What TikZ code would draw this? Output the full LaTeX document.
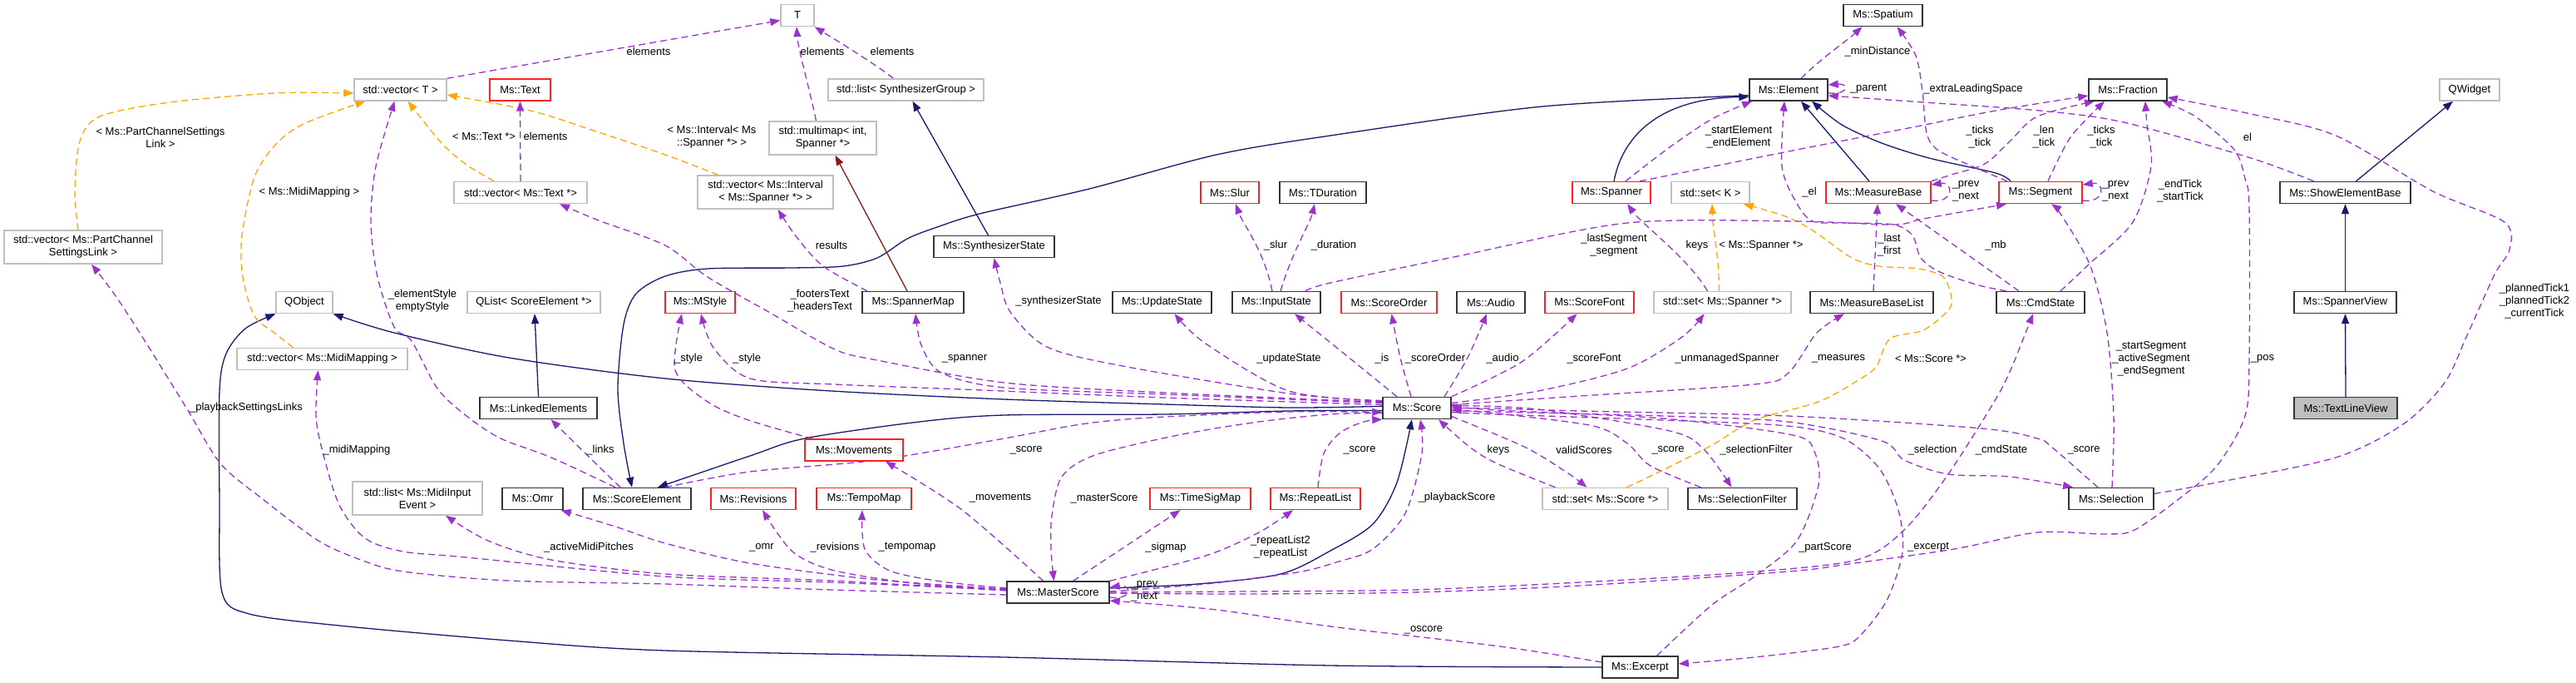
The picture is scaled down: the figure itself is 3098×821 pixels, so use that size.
\documentclass[tikz,border=0pt]{standalone}
\usepackage{fontspec}
\setmainfont{Liberation Sans}
\usetikzlibrary{arrows.meta}
\pgfdeclarelayer{bg}
\pgfsetlayers{bg,main}
\definecolor{cUse}{HTML}{9A32CD}
\definecolor{cTpl}{HTML}{FFA500}
\definecolor{cInh}{HTML}{191970}
\definecolor{cPriv}{HTML}{8B1A1A}
\definecolor{cGray}{HTML}{BFBFBF}
\definecolor{cRed}{HTML}{FF2020}
\tikzset{
 box/.style={rectangle, draw, line width=1.4pt, fill=white, inner sep=0pt, minimum height=26pt, font=\fontsize{13}{15}\selectfont, align=center},
 gbox/.style={box, draw=cGray},
 rbox/.style={box, draw=cRed},
 kbox/.style={box, draw=black!80},
 hbox/.style={box, draw=black!80, fill=cGray},
 tall/.style={minimum height=40pt},
 usage/.style={draw=cUse, line width=1.3pt, dash pattern=on 8pt off 5pt, -{Triangle[length=12pt,width=9pt]}},
 tmpl/.style={usage, draw=cTpl},
 inh/.style={draw=cInh, line width=1.3pt, -{Triangle[length=12pt,width=9pt]}},
 priv/.style={inh, draw=cPriv},
 lbl/.style={font=\fontsize{13}{15}\selectfont, align=center, inner sep=0pt},
}
\begin{document}
\begin{tikzpicture}[x=1pt,y=-1pt]
\useasboundingbox (0,0) rectangle (3098,821);
% ---------- nodes
\node[gbox, minimum width=40pt] (T) at (959,18.5) {T};
\node[kbox, minimum width=95pt] (spat) at (2264.5,18.5) {Ms::Spatium};
\node[gbox, minimum width=111pt] (vecT) at (481.5,108) {std::vector< T >};
\node[rbox, minimum width=73pt] (text) at (625.5,108) {Ms::Text};
\node[gbox, minimum width=187pt] (lsg) at (1089.5,108) {std::list< SynthesizerGroup >};
\node[kbox, minimum width=94pt] (elem) at (2151,108) {Ms::Element};
\node[kbox, minimum width=94pt] (frac) at (2559,108) {Ms::Fraction};
\node[gbox, minimum width=72pt] (qw) at (2970,108) {QWidget};
\node[gbox, tall, minimum width=129pt] (mmap) at (989.5,166) {std::multimap< int,\\Spanner *>};
\node[gbox, minimum width=160pt] (vtext) at (626,231.5) {std::vector< Ms::Text *>};
\node[gbox, tall, minimum width=163pt] (vint) at (920.5,231) {std::vector< Ms::Interval\\< Ms::Spanner *> >};
\node[rbox, minimum width=70pt] (slur) at (1479,231.5) {Ms::Slur};
\node[kbox, minimum width=104pt] (tdur) at (1591,231.5) {Ms::TDuration};
\node[rbox, minimum width=94pt] (spanner) at (1938,231.5) {Ms::Spanner};
\node[gbox, minimum width=94pt] (setK) at (2057,231.5) {std::set< K >};
\node[rbox, minimum width=126pt] (mb) at (2259,231.5) {Ms::MeasureBase};
\node[rbox, minimum width=100pt] (seg) at (2454,231.5) {Ms::Segment};
\node[kbox, minimum width=157pt] (seb) at (2820.5,231.5) {Ms::ShowElementBase};
\node[gbox, tall, minimum width=190pt] (vpcs) at (100,297) {std::vector< Ms::PartChannel\\SettingsLink >};
\node[kbox, minimum width=145pt] (synth) at (1195.5,296.5) {Ms::SynthesizerState};
\node[gbox, minimum width=68pt] (qobj) at (366,363.5) {QObject};
\node[gbox, minimum width=160pt] (qlist) at (642,363.5) {QList< ScoreElement *>};
\node[rbox, minimum width=84pt] (mstyle) at (842,363.5) {Ms::MStyle};
\node[kbox, minimum width=122pt] (smap) at (1098,363.5) {Ms::SpannerMap};
\node[kbox, minimum width=119pt] (ups) at (1397.5,363.5) {Ms::UpdateState};
\node[kbox, minimum width=106pt] (ins) at (1535,363.5) {Ms::InputState};
\node[rbox, minimum width=115pt] (sord) at (1670.5,363.5) {Ms::ScoreOrder};
\node[kbox, minimum width=82pt] (audio) at (1793,363.5) {Ms::Audio};
\node[rbox, minimum width=107pt] (sfont) at (1911.5,363.5) {Ms::ScoreFont};
\node[gbox, minimum width=165pt] (setsp) at (2071.5,363.5) {std::set< Ms::Spanner *>};
\node[kbox, minimum width=148pt] (mbl) at (2251,363.5) {Ms::MeasureBaseList};
\node[kbox, minimum width=106pt] (cmd) at (2454,363.5) {Ms::CmdState};
\node[kbox, minimum width=123pt] (sv) at (2820.5,363.5) {Ms::SpannerView};
\node[gbox, minimum width=205pt] (vmm) at (387.5,431.5) {std::vector< Ms::MidiMapping >};
\node[kbox, minimum width=141pt] (linked) at (647.5,490.5) {Ms::LinkedElements};
\node[rbox, minimum width=118pt] (mov) at (1027,541) {Ms::Movements};
\node[kbox, minimum width=82pt] (score) at (1704,490.5) {Ms::Score};
\node[hbox, minimum width=124pt] (tlv) at (2821,490.5) {Ms::TextLineView};
\node[gbox, tall, minimum width=156pt] (lmidi) at (502,599) {std::list< Ms::MidiInput\\Event >};
\node[kbox, minimum width=73pt] (omr) at (640.5,599.5) {Ms::Omr};
\node[kbox, minimum width=130pt] (se) at (766,599.5) {Ms::ScoreElement};
\node[rbox, minimum width=102pt] (rev) at (906,599.5) {Ms::Revisions};
\node[rbox, minimum width=114pt] (tmap) at (1039,599.5) {Ms::TempoMap};
\node[rbox, minimum width=121pt] (tsig) at (1443.5,599.5) {Ms::TimeSigMap};
\node[rbox, minimum width=108pt] (rl) at (1582,599.5) {Ms::RepeatList};
\node[gbox, minimum width=151pt] (setsc) at (1930.5,599.5) {std::set< Ms::Score *>};
\node[kbox, minimum width=131pt] (sfil) at (2095.5,599.5) {Ms::SelectionFilter};
\node[kbox, minimum width=102pt] (sel) at (2539,599.5) {Ms::Selection};
\node[kbox, minimum width=123pt] (ms) at (1272.5,712) {Ms::MasterScore};
\node[kbox, minimum width=91pt] (exc) at (1972.5,802) {Ms::Excerpt};
% ---------- edges
\begin{pgfonlayer}{bg}
% inheritance
\draw[inh] ([xshift=13pt]seb.north) -- ([xshift=-20pt]qw.south);
\draw[inh] (sv.north) -- (seb.south);
\draw[inh] (tlv.north) -- (sv.south);
\draw[inh] ([xshift=-7pt]synth.north) -- ([xshift=8pt]lsg.south);
\draw[inh] ([xshift=3pt]spanner.north) .. controls (1952,160) and (2000,118) .. (elem.190);
\draw[inh] ([xshift=-11pt]mb.north) -- ([xshift=15pt]elem.south);
\draw[inh] plot[smooth] coordinates {([xshift=-36pt]seg.north) (2400,208) (2320,190) (2263,172) (2215,150) ([xshift=28pt]elem.south)};
\draw[inh] plot[smooth] coordinates {(elem.188) (1855,128) (1600,163) (1463,186) (1310,227) (1178,257) (1127,273) (1091,287) (1055,310) (1014,320) (953,322) (851,323) (800,332) (765,353) (750,390) (743,467) (750,533) ([xshift=-6pt]se.north)};
\draw[inh] plot[smooth] coordinates {(score.184) (1550,494) (1400,498) (1208,499) (1106,507) (968,527) (902,548) ([xshift=25pt]se.north)};
\draw[inh] plot[smooth] coordinates {(score.177) (1550,490) (1400,486) (1208,480) (1000,470) (800,455) (612,430) (474,400) (qobj.south east)};
\draw[inh] plot[smooth] coordinates {(exc.west) (1600,800) (1208,790) (800,782) (612,770) (408,752) (300,738) (267,712) (264,600) (264,470) (272,425) (295,395) (qobj.south west)};
\draw[inh] (linked.north) -- ([xshift=1pt]qlist.south);
\draw[inh] plot[smooth] coordinates {([yshift=5pt]ms.east) (1440,702) (1540,690) (1600,662) (1651,630) (1680,580) ([xshift=-6pt]score.south)};
\draw[priv] ([xshift=-7pt]smap.north) -- ([xshift=15pt]mmap.south);
% templates
\draw[tmpl] plot[smooth] coordinates {([xshift=-6pt]vpcs.north) (90,230) (96,170) (120,140) (204,123) (330,112) ([yshift=-4pt]vecT.west)};
\draw[tmpl] plot[smooth] coordinates {([xshift=-35pt]vmm.north) (330,400) (306,380) (292,333) (291,283) (306,213) (332,173) (367,148) ([xshift=14pt]vecT.south west)};
\draw[tmpl] plot[smooth] coordinates {([xshift=-32pt]vtext.north) (561,198) (531,172) ([xshift=9pt]vecT.south)};
\draw[tmpl] plot[smooth] coordinates {([xshift=-57pt]vint.north) (800,186) (714,157) (638,133) ([yshift=-6pt]vecT.east)};
\draw[tmpl] ([xshift=-4pt]setsp.north) .. controls (2067,300) and (2060,280) .. ([xshift=2pt]setK.south);
\draw[tmpl] plot[smooth] coordinates {([xshift=26pt]setsc.north) (2000,565) (2059,535) (2110,505) (2187,483) (2238,455) (2257,440) (2273,407) (2313,397) (2343,373) (2347,358) (2337,333) (2307,323) (2260,320) (2227,310) (2180,277) (2147,260) ([xshift=-8pt]setK.south east)};
% usage
\draw[usage] (vecT.north east) -- ([yshift=-6pt]T.west);
\draw[usage] ([xshift=-8pt]mmap.north) .. controls (972,100) and (960,60) .. ([xshift=-1pt]T.south);
\draw[usage] ([xshift=-15pt]lsg.north) .. controls (1050,75) and (1000,45) .. (T.south east);
\draw[usage] (vtext.north) -- (text.south);
\draw[usage] plot[smooth] coordinates {([xshift=-26pt]se.north) (663,550) (602,527) (561,500) (526,467) (495,410) (474,393) (454,333) (446,267) (452,200) ([xshift=-7pt]vecT.south)};
\draw[usage] plot[smooth] coordinates {([yshift=-3pt]ms.west) (1000,709) (800,702) (612,698) (485,687) (434,673) (383,650) (316,600) (265,557) (224,490) (168,400) (135,350) ([xshift=10pt]vpcs.south)};
\draw[usage] plot[smooth] coordinates {([yshift=3pt]ms.west) (1000,700) (800,693) (561,670) (485,663) (439,647) (408,607) (388,543) (380,500) ([xshift=-5pt]vmm.south)};
\draw[usage] plot[smooth] coordinates {([yshift=2pt]ms.west) (1000,698) (800,690) (663,673) (587,650) ([xshift=34pt]lmidi.south)};
\draw[usage] plot[smooth] coordinates {([yshift=4pt]ms.west) (1055,697) (902,677) (800,653) (740,633) ([xshift=-3pt]omr.south east)};
\draw[usage] plot[smooth] coordinates {([yshift=3pt]ms.west) (1106,702) (1004,686) (953,663) ([xshift=11pt]rev.south)};
\draw[usage] plot[smooth] coordinates {([yshift=5pt]ms.west) (1132,699) (1070,686) (1040,660) ([xshift=-2pt]tmap.south)};
\draw[usage] plot[smooth] coordinates {([xshift=-18pt]ms.north) (1157,613) ([xshift=38pt]mov.south)};
\draw[usage] plot[smooth] coordinates {([yshift=-6pt]score.west) (1600,498) (1514,507) (1417,523) (1317,547) (1277,573) (1265,620) (1264,660) ([xshift=-5pt]ms.north)};
\draw[usage] ([xshift=18pt]ms.north) -- ([xshift=-24pt]tsig.south);
\draw[usage] plot[smooth] coordinates {(ms.north east) (1450,668) (1514,640) ([xshift=-27pt]rl.south)};
\draw[usage] ([yshift=-6pt]ms.east) .. controls (1362,722) and (1362,702) .. ([yshift=6pt]ms.east);
\draw[usage] plot[smooth] coordinates {([yshift=1pt]ms.east) (1450,702) (1560,688) (1610,675) (1651,660) (1690,617) (1710,545) ([xshift=4pt]score.south)};
\draw[usage] plot[smooth] coordinates {(ms.east) (1500,711) (1700,709) (1900,700) (2100,688) (2233,673) (2290,637) (2343,570) (2400,480) (2420,440) ([xshift=-9pt]cmd.south)};
\draw[usage] plot[smooth] coordinates {([yshift=-1pt]ms.east) (1500,714) (1700,712) (1900,704) (2150,687) (2223,678) (2350,660) (2450,640) (2533,642) (2567,637) (2620,600) (2666,560) (2700,500) (2705,430) (2705,250) (2700,215) (2687,180) (2640,140) ([xshift=41pt]frac.south)};
\draw[usage] plot[smooth] coordinates {([yshift=6pt]sel.east) (2666,580) (2809,550) (2890,510) (2940,460) (2967,403) (3000,330) (3018,300) (3012,267) (2926,230) (2809,163) (2707,137) ([yshift=-9pt]frac.east)};
\draw[usage] plot[smooth] coordinates {([xshift=-16pt]sel.north) (2467,537) (2450,527) (2383,515) (2150,500) (1900,494) (1800,491) (score.east)};
\draw[usage] plot[smooth] coordinates {([yshift=-3pt]score.east) (1800,495) (2000,500) (2150,507) (2263,530) (2290,553) (2343,570) (2417,573) ([xshift=-46pt]sel.north)};
\draw[usage] plot[smooth] coordinates {([yshift=-5pt]score.east) (1800,498) (2000,505) (2150,512) (2217,527) (2260,563) (2283,613) (2288,663) (2270,720) (2238,763) (2212,777) (2110,790) ([yshift=4pt]exc.east)};
\draw[usage] plot[smooth] coordinates {([xshift=20pt]exc.north) (2059,727) (2110,693) (2161,650) (2187,583) (2182,543) (2156,523) (2000,503) (1800,493) ([yshift=2pt]score.east)};
\draw[usage] plot[smooth] coordinates {([yshift=6pt]exc.west) (1804,777) (1600,753) (1463,733) ([yshift=-10pt]ms.east)};
\draw[usage] plot[smooth] coordinates {([xshift=-50pt]sfil.north) (1985,560) (1957,533) (1916,512) (1800,497) ([yshift=-2pt]score.east)};
\draw[usage] plot[smooth] coordinates {([yshift=3pt]score.east) (1850,492) (2008,518) (2049,540) ([xshift=-13pt]sfil.north)};
\draw[usage] plot[smooth] coordinates {([xshift=-60pt]setsc.north) (1800,557) (1767,537) ([xshift=26pt]score.south)};
\draw[usage] plot[smooth] coordinates {([yshift=-10pt]score.east) (1833,537) (1883,567) ([xshift=-22pt]setsc.north)};
\draw[usage] plot[smooth] coordinates {([xshift=3pt]rl.north) (1592,545) (1612,520) (1640,507) (score.south west)};
\draw[usage] plot[smooth] coordinates {([xshift=34pt]se.north) (902,567) (1055,553) (1208,527) (1300,510) (1383,502) (1550,495) ([yshift=-5pt]score.west)};
\draw[usage] plot[smooth] coordinates {([xshift=-20pt]se.north) (704,545) ([xshift=15pt]linked.south)};
\draw[usage] plot[smooth] coordinates {([yshift=4pt]score.west) (1400,478) (1157,468) (1004,462) (902,455) (858,418) ([xshift=1pt]mstyle.south)};
\draw[usage] plot[smooth] coordinates {([xshift=-50pt]mov.north) (900,505) (851,483) (812,445) ([xshift=-22pt]mstyle.south)};
\draw[usage] plot[smooth] coordinates {([yshift=6pt]score.west) (1400,474) (1208,466) (1132,448) (1108,415) ([xshift=3pt]smap.south)};
\draw[usage] plot[smooth] coordinates {([yshift=7pt]score.west) (1400,472) (1208,460) (1055,433) (1004,420) (928,377) (851,333) (800,295) (720,265) ([xshift=47pt]vtext.south)};
\draw[usage] plot[smooth] coordinates {([yshift=8pt]score.west) (1550,473) (1350,440) (1259,417) (1215,375) (1203,340) (synth.south)};
\draw[usage] plot[smooth] coordinates {([xshift=-55pt]smap.north) (990,320) (958,285) ([xshift=15pt]vint.south)};
\draw[usage] plot[smooth] coordinates {([yshift=9pt]score.west) (1550,470) (1450,413) ([xshift=15pt]ups.south)};
\draw[usage] plot[smooth] coordinates {([xshift=-24pt]score.north) (1620,428) ([xshift=22pt]ins.south)};
\draw[usage] plot[smooth] coordinates {([xshift=-7pt]score.north) (1684,430) ([xshift=3pt]sord.south)};
\draw[usage] plot[smooth] coordinates {([xshift=33pt]score.north) (1765,430) ([xshift=-5pt]audio.south)};
\draw[usage] plot[smooth] coordinates {(score.north east) (1830,435) ([xshift=-15pt]sfont.south)};
\draw[usage] plot[smooth] coordinates {([yshift=6pt]score.east) (1850,470) (1957,443) (2023,405) ([xshift=-22pt]setsp.south)};
\draw[usage] plot[smooth] coordinates {([yshift=4pt]score.east) (1900,476) (2110,462) (2151,448) (2185,400) ([xshift=-33pt]mbl.south)};
\draw[usage] ([yshift=-4pt]elem.east) .. controls (2224,114) and (2224,100) .. ([yshift=6pt]elem.east);
\draw[usage] ([xshift=15pt]elem.north) .. controls (2190,70) and (2220,50) .. ([xshift=-25pt]spat.south);
\draw[usage] plot[smooth] coordinates {([xshift=-40pt]seg.north) (2365,197) (2330,180) (2317,160) (2312,110) (2304,67) ([xshift=17pt]spat.south)};
\draw[usage] plot[smooth] coordinates {([xshift=17pt]spanner.north) (2008,177) (2059,143) ([xshift=-44pt]elem.south)};
\draw[usage] plot[smooth] coordinates {([xshift=34pt]spanner.north) (2161,180) (2300,153) (2400,133) ([yshift=-7pt]frac.west)};
\draw[usage] plot[smooth] coordinates {(mb.north east) (2347,210) (2387,197) (2417,170) (2450,140) ([xshift=-40pt]frac.south)};
\draw[usage] plot[smooth] coordinates {([xshift=9pt]seg.north) (2490,165) ([xshift=-28pt]frac.south)};
\draw[usage] ([yshift=-9.5pt]mb.east) .. controls (2350,245) and (2350,218) .. ([yshift=9.5pt]mb.east);
\draw[usage] ([yshift=-9.5pt]seg.east) .. controls (2532,245) and (2532,218) .. ([yshift=9.5pt]seg.east);
\draw[usage] plot[smooth] coordinates {([xshift=-38pt]seb.north) (2707,190) (2554,147) (2453,133) (2314,123) ([yshift=-7pt]elem.east)};
\draw[usage] plot[smooth] coordinates {([xshift=24pt]cmd.north) (2513,317) (2565,267) (2587,200) (2582,150) ([xshift=21pt]frac.south)};
\draw[usage] ([xshift=-26pt]cmd.north) -- ([xshift=21pt]mb.south);
\draw[usage] plot[smooth] coordinates {([xshift=-41pt]cmd.north) (2380,343) (2333,327) (2310,310) (2300,283) (2277,270) (2220,268) (2180,266) (2160,243) (2143,200) ([xshift=-5pt]elem.south)};
\draw[usage] plot[smooth] coordinates {([xshift=1pt]sel.north) (2542,500) (2534,400) (2514,320) (2480,260) ([xshift=13pt]seg.south)};
\draw[usage] plot[smooth] coordinates {([xshift=35pt]ins.north) (1600,340) (1753,308) (1957,268) (2161,266) (2277,270) (2313,263) ([xshift=-41pt]seg.south)};
\draw[usage] ([xshift=-5pt]ins.north) .. controls (1520,300) and (1495,270) .. ([xshift=7pt]slur.south);
\draw[usage] ([xshift=5pt]ins.north) .. controls (1555,300) and (1575,270) .. ([xshift=-10pt]tdur.south);
\draw[usage] ([xshift=-18pt]setsp.north) .. controls (2030,310) and (1975,270) .. ([xshift=19pt]spanner.south);
\draw[usage] ([xshift=2pt]mbl.north) -- ([xshift=-1pt]mb.south);
\end{pgfonlayer}
% ---------- edge labels
\node[lbl] (l1) at (780,62) {elements};
\node[lbl] (l2) at (989,62) {elements};
\node[lbl] (l3) at (1073,62) {elements};
\node[lbl] (l4) at (582,164) {< Ms::Text *>};
\node[lbl] (l5) at (656,164) {elements};
\node[lbl] (l6) at (193,165) {< Ms::PartChannelSettings\\Link >};
\node[lbl] (l7) at (372,231) {< Ms::MidiMapping >};
\node[lbl] (l8) at (508,362) {\_elementStyle\\emptyStyle};
\node[lbl] (l9) at (856,165) {< Ms::Interval< Ms\\::Spanner *> >};
\node[lbl] (l10) at (1000,295) {results};
\node[lbl] (l11) at (986,362) {\_footersText\\\_headersText};
\node[lbl] (l12) at (1273,362) {\_synthesizerState};
\node[lbl] (l13) at (1534,295) {\_slur};
\node[lbl] (l14) at (1604,295) {\_duration};
\node[lbl] (l15) at (2258,62) {\_minDistance};
\node[lbl] (l16) at (2247,107) {\_parent};
\node[lbl] (l17) at (2373,107) {\_extraLeadingSpace};
\node[lbl] (l18) at (2091,165) {\_startElement\\\_endElement};
\node[lbl] (l19) at (2381,165) {\_ticks\\\_tick};
\node[lbl] (l20) at (2458,165) {\_len\\\_tick};
\node[lbl] (l21) at (2527,165) {\_ticks\\\_tick};
\node[lbl] (l22) at (2703,165) {el};
\node[lbl] (l23) at (2364,230) {\_prev\\\_next};
\node[lbl] (l24) at (2544,230) {\_prev\\\_next};
\node[lbl] (l25) at (2622,230) {\_endTick\\\_startTick};
\node[lbl] (l26) at (2176,231) {\_el};
\node[lbl] (l27) at (1941,295) {\_lastSegment\\\_segment};
\node[lbl] (l28) at (2041,295) {keys};
\node[lbl] (l29) at (2118,295) {< Ms::Spanner *>};
\node[lbl] (l30) at (2272,295) {\_last\\\_first};
\node[lbl] (l31) at (2400,295) {\_mb};
\node[lbl] (l32) at (3048,362) {\_plannedTick1\\\_plannedTick2\\\_currentTick};
\node[lbl] (l33) at (2587,431) {\_startSegment\\\_activeSegment\\\_endSegment};
\node[lbl] (l34) at (2721,431) {\_pos};
\node[lbl] (l35) at (828,431) {\_style};
\node[lbl] (l36) at (898,431) {\_style};
\node[lbl] (l37) at (1160,431) {\_spanner};
\node[lbl] (l38) at (1550,431) {\_updateState};
\node[lbl] (l39) at (1662,431) {\_is};
\node[lbl] (l40) at (1726,431) {\_scoreOrder};
\node[lbl] (l41) at (1807,431) {\_audio};
\node[lbl] (l42) at (1917,431) {\_scoreFont};
\node[lbl] (l43) at (2077,431) {\_unmanagedSpanner};
\node[lbl] (l44) at (2211,431) {\_measures};
\node[lbl] (l45) at (2322,431) {< Ms::Score *>};
\node[lbl] (l46) at (296,490) {\_playbackSettingsLinks};
\node[lbl] (l47) at (429,541) {\_midiMapping};
\node[lbl] (l48) at (722,541) {\_links};
\node[lbl] (l49) at (1234,541) {\_score};
\node[lbl] (l50) at (1635,541) {\_score};
\node[lbl] (l51) at (1802,541) {keys};
\node[lbl] (l52) at (1905,541) {validScores};
\node[lbl] (l53) at (2006,541) {\_score};
\node[lbl] (l54) at (2112,541) {\_selectionFilter};
\node[lbl] (l55) at (2324,541) {\_selection};
\node[lbl] (l56) at (2407,541) {\_cmdState};
\node[lbl] (l57) at (2506,541) {\_score};
\node[lbl] (l58) at (1203,599) {\_movements};
\node[lbl] (l59) at (1328,599) {\_masterScore};
\node[lbl] (l60) at (1752,598) {\_playbackScore};
\node[lbl] (l61) at (916,658) {\_omr};
\node[lbl] (l62) at (1004,658) {\_revisions};
\node[lbl] (l63) at (1091,658) {\_tempomap};
\node[lbl] (l64) at (708,658) {\_activeMidiPitches};
\node[lbl] (l65) at (1402,658) {\_sigmap};
\node[lbl] (l66) at (1540,658) {\_repeatList2\\\_repeatList};
\node[lbl] (l67) at (2195,658) {\_partScore};
\node[lbl] (l68) at (2319,658) {\_excerpt};
\node[lbl] (l69) at (1376,711) {\_prev\\\_next};
\node[lbl] (l70) at (1712,757) {\_oscore};
\end{tikzpicture}
\end{document}
